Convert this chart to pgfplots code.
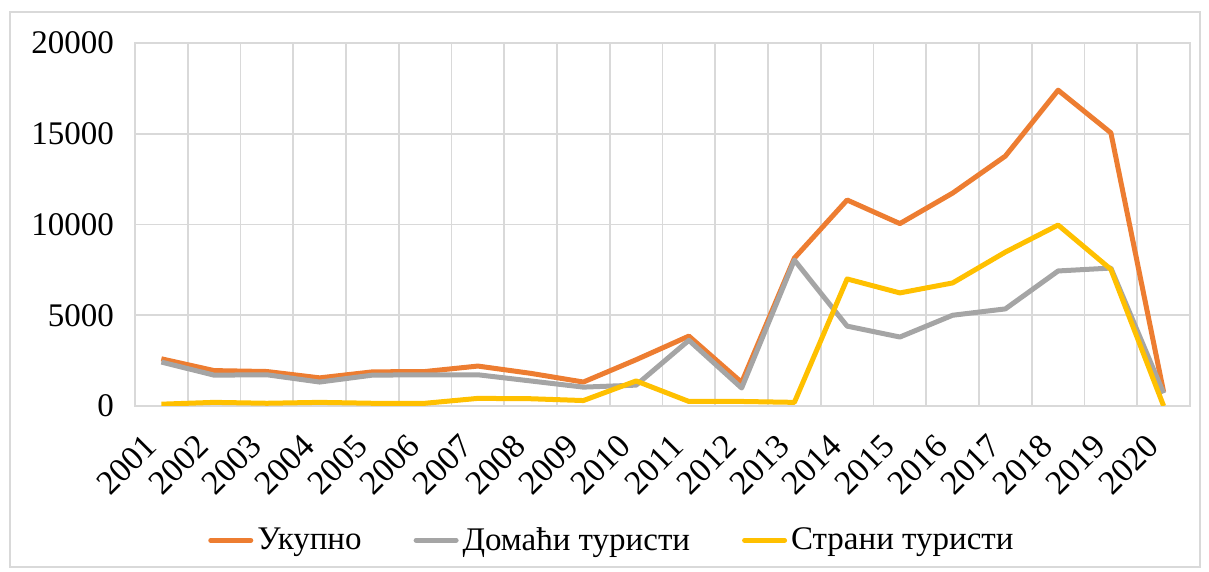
\documentclass[border=0pt]{standalone}
\usepackage{pgfplots}
\pgfplotsset{compat=1.18}
\usepackage{fontspec}
\setmainfont{Liberation Serif}
\definecolor{cOr}{HTML}{ED7D31}
\definecolor{cGr}{HTML}{A5A5A5}
\definecolor{cYe}{HTML}{FFC000}
\definecolor{cGrid}{HTML}{D9D9D9}
\begin{document}
\begin{tikzpicture}
\useasboundingbox (-67.5pt,-83pt) rectangle (537pt,203pt);
\draw[cGrid, line width=0.75pt] (-62.5pt,-80.5pt) rectangle (532.5pt,197pt);
\begin{axis}[
  scale only axis,
  width=527.5pt, height=181.5pt,
  xmin=-0.5, xmax=19.5, ymin=0, ymax=20000,
  scaled ticks=false,
  xtick={0,...,19},
  xticklabels={2001,2002,2003,2004,2005,2006,2007,2008,2009,2010,2011,2012,2013,2014,2015,2016,2017,2018,2019,2020},
  minor xtick={-0.5,0.5,...,19.5},
  xminorgrids=true,
  ytick={0,5000,10000,15000,20000},
  ymajorgrids=true,
  grid style={cGrid, line width=0.9pt},
  minor grid style={cGrid, line width=0.9pt},
  major tick length=0pt, minor tick length=0pt,
  axis line style={cGrid, line width=0.9pt},
  tick label style={font=\fontsize{16.5}{19}\selectfont},
  xticklabel style={font=\fontsize{17}{19}\selectfont},
  /pgf/number format/assume math mode=true,
  /pgf/number format/set thousands separator={},
  yticklabel style={xshift=-7pt},
  xticklabel style={xshift=-3pt, yshift=-15pt, rotate=45, anchor=east},
  legend columns=3,
  legend style={at={(0.453,-0.37)}, anchor=center, draw=none, font=\fontsize{16.5}{19}\selectfont,
    /tikz/every even column/.append style={column sep=24pt}},
  legend image code/.code={\draw[#1, line width=2.5pt, line cap=round] (0pt,0pt) -- (20pt,0pt);},
  every axis plot/.append style={line width=2.5pt, line join=round, mark=none},
]
\addplot[cOr] coordinates {(0,2600) (1,1950) (2,1900) (3,1550) (4,1880) (5,1900) (6,2200) (7,1800) (8,1320) (9,2550) (10,3850) (11,1300) (12,8150) (13,11350) (14,10050) (15,11730) (16,13770) (17,17400) (18,15050) (19,770)};
\addlegendentry{Укупно}
\addplot[cGr] coordinates {(0,2420) (1,1700) (2,1720) (3,1320) (4,1700) (5,1720) (6,1720) (7,1380) (8,1040) (9,1150) (10,3620) (11,990) (12,8040) (13,4400) (14,3800) (15,5000) (16,5350) (17,7440) (18,7600) (19,700)};
\addlegendentry{Домаћи туристи}
\addplot[cYe] coordinates {(0,100) (1,200) (2,150) (3,200) (4,150) (5,150) (6,420) (7,400) (8,300) (9,1380) (10,250) (11,250) (12,200) (13,7000) (14,6230) (15,6780) (16,8480) (17,9970) (18,7530) (19,0)};
\addlegendentry{Страни туристи}
\end{axis}
\end{tikzpicture}
\end{document}
